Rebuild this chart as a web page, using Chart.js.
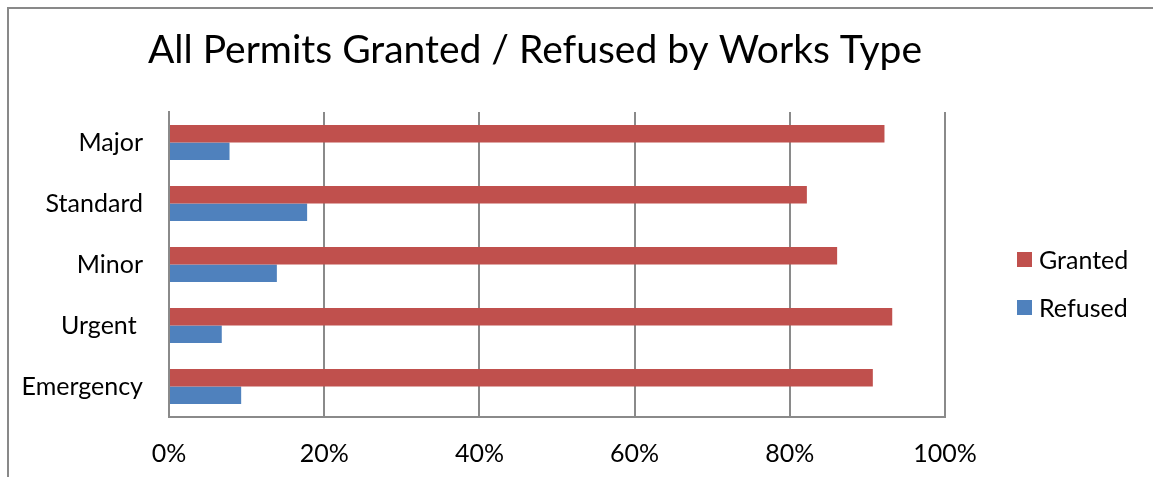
<!DOCTYPE html>
<html>
<head>
<meta charset="utf-8">
<title>All Permits Granted / Refused by Works Type</title>
<script src="https://cdn.jsdelivr.net/npm/chart.js@4.4.1/dist/chart.umd.min.js"></script>
<style>
  html, body { margin: 0; padding: 0; background: #fff; overflow: hidden; }
  #wrap { position: relative; width: 1153px; height: 477px; }
  #frame {
    position: absolute; left: 7px; top: 7px; width: 1200px; height: 520px;
    border-left: 2px solid #898989; border-top: 2px solid #898989;
  }
  #permitsChart { position: absolute; left: 0; top: 0; }
</style>
</head>
<body>
<div id="wrap">
  <div id="frame"></div>
  <canvas id="permitsChart" width="1153" height="477"></canvas>
</div>
<script>
  const chartTitle = 'All Permits Granted / Refused by Works Type';
  const worksTypes = ['Major', 'Standard', 'Minor', 'Urgent ', 'Emergency'];
  const grantedPct = [92.2, 82.2, 86.1, 93.2, 90.7];
  const refusedPct = [7.8, 17.8, 13.9, 6.8, 9.3];
  const tickSteps = [0, 20, 40, 60, 80, 100];

  const labelFont = 'Lato, "Open Sans", sans-serif';
  const gridGrey = '#8a8a8a';

  // title + legend are painted by hand so they sit where the old Excel sheet had them
  const sheetDecor = {
    id: 'sheetDecor',
    afterDraw(chart) {
      const ctx = chart.ctx;
      ctx.save();
      ctx.fillStyle = '#000';
      ctx.font = '39px ' + labelFont;
      ctx.textAlign = 'center';
      ctx.textBaseline = 'alphabetic';
      ctx.fillText(chartTitle, 535, 63);

      ctx.font = '25px ' + labelFont;
      ctx.textAlign = 'left';
      ctx.textBaseline = 'middle';
      chart.data.datasets.forEach((ds, i) => {
        const y = 259.5 + i * 48;
        ctx.fillStyle = ds.backgroundColor;
        ctx.fillRect(1017, y - 7.5, 15, 15);
        ctx.fillStyle = '#000';
        ctx.fillText(ds.label, 1039, y + 1);
      });
      ctx.restore();
    }
  };

  new Chart(document.getElementById('permitsChart'), {
    type: 'bar',
    data: {
      labels: worksTypes,
      datasets: [
        { label: 'Granted', data: grantedPct, backgroundColor: '#C0504D' },
        { label: 'Refused', data: refusedPct, backgroundColor: '#4F81BD' }
      ]
    },
    options: {
      indexAxis: 'y',
      responsive: false,
      animation: false,
      devicePixelRatio: 1,
      categoryPercentage: 0.57,
      barPercentage: 1,
      layout: { padding: { left: 0, top: 112, right: 208, bottom: 0 } },
      plugins: {
        legend: { display: false },
        title: { display: false },
        tooltip: { enabled: false }
      },
      scales: {
        x: {
          min: 0,
          max: 100,
          afterBuildTicks(scale) {
            scale.ticks = tickSteps.map(v => ({ value: v }));
          },
          afterFit(scale) { scale.height = 60; },
          grid: { color: gridGrey, lineWidth: 2, drawTicks: false },
          border: { color: gridGrey, width: 2 },
          ticks: {
            padding: 22,
            color: '#000',
            font: { family: labelFont, size: 25 },
            callback: v => v + '%'
          }
        },
        y: {
          afterFit(scale) { scale.width = 169; },
          grid: { display: false, drawTicks: false },
          border: { color: gridGrey, width: 2 },
          ticks: {
            padding: 26,
            color: '#000',
            font: { family: labelFont, size: 25 }
          }
        }
      }
    },
    plugins: [sheetDecor]
  });
</script>
</body>
</html>
